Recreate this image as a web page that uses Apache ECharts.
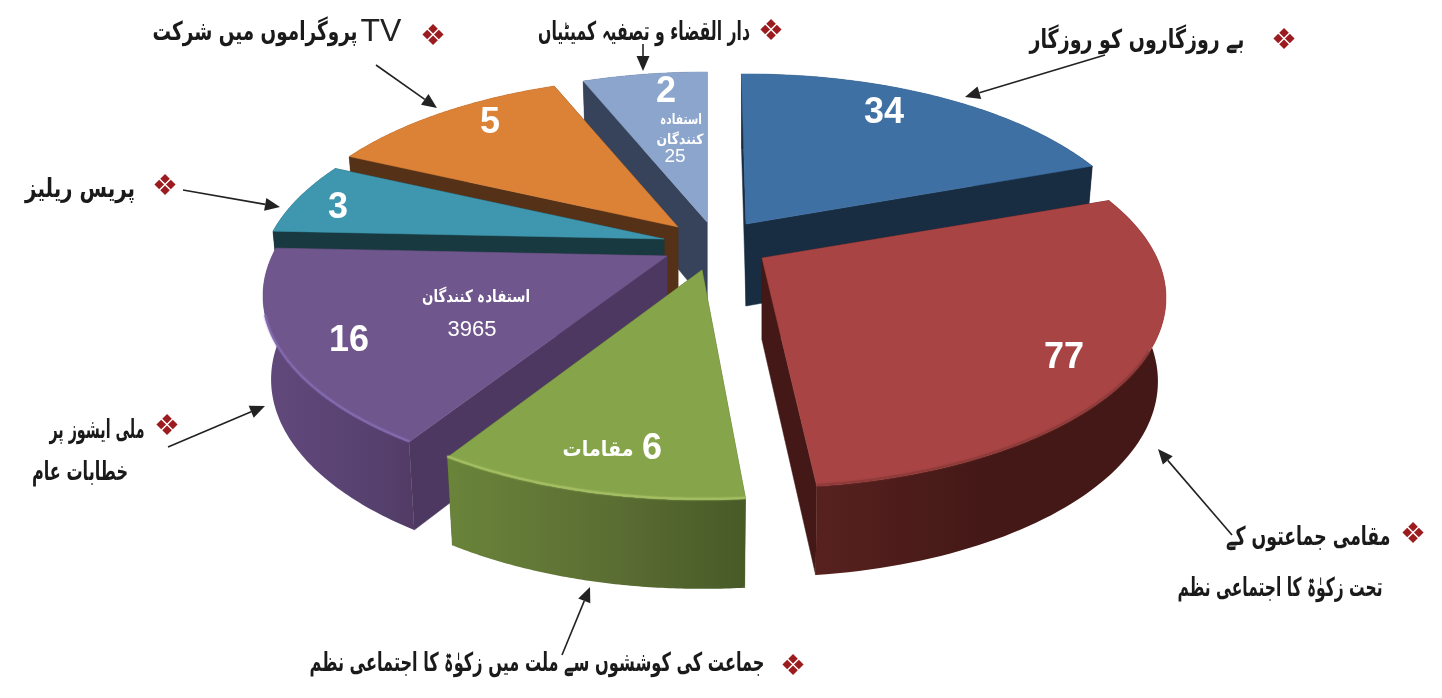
<!DOCTYPE html>
<html><head><meta charset="utf-8">
<style>html,body{margin:0;padding:0;background:#fff}#c{width:1442px;height:698px}</style>
<script src="https://cdn.jsdelivr.net/npm/echarts@6/dist/echarts.min.js"></script></head>
<body><div id="c"></div>
<script>
// ---- data (clockwise from 12 o'clock)
var sliceNames = ['بے روزگاروں کو روزگار','مقامی جماعتوں کے تحت زکوٰۃ کا اجتماعی نظم','جماعت کی کوششوں سے ملت میں زکوٰۃ کا اجتماعی نظم','ملی ایشوز پر خطابات عام','پریس ریلیز','TV پروگراموں میں شرکت','دار القضاء و تصفیہ کمیٹیاں'];
var sliceValues = [34,77,6,16,3,5,2];
// angular extent of each slice as drawn in the picture (degrees): not proportional to the values
var sliceFrom = [-0.8,70.2,175,212.5,272.5,295,338];
var sliceTo   = [70,173.7,212,272.5,295,338,360];

// ---- layout and style
var CENTER = [705,250];
var explode = [[41,-26],[57,8],[-3,20],[-38,6],[-41,-11],[-27,-23],[2,-28]];
var paintOrder = [0,6,5,4,3,2,1];
var topColor  = ['#3E70A4','#A84544','#86A44A','#6F568C','#3E97AF','#DC8237','#8CA5CC'];
var edgeColor = ['#182C42','#431816','#4A5C28','#4C3860','#17393F','#553117','#37435A'];
var wallStops = [
  ['#182C42','#182C42'],['#57211F','#431816','#431816'],['#6A843A','#5D7034','#485A27'],
  ['#62497C','#5A4474','#523C66'],['#17393F','#17393F'],['#553117','#553117'],['#37435A','#37435A']];
var rimColor = [null,'#8F3B3A','#A3BE62','#8169AD',null,null,null];
var rimRange = [null,[118,173.7],[175,212],[212.5,252],null,null,null];
var valueLabelAt = [[884,113],[1064,358],[652,449],[349,341],[338,208],[490,123],[666,92]];
var VALUE_FONT = 36, RX = 395, RY = 181.6, PERSP = 0.21, DEPTH0 = 82, DEPTH1 = 7, BOTTOM_X = 0.98;

function project(anchor, r, deg, bottom){
  var t = deg*Math.PI/180, X = r*Math.sin(t), Y = -r*Math.cos(t), s = 1/(1-PERSP*Y);
  var x = anchor[0] + X*RX*s*(bottom?BOTTOM_X:1);
  var y = anchor[1] + Y*RY*s + (bottom ? DEPTH0+DEPTH1*Y : 0);
  return [x,y];
}
function arc(anchor,a,b,bottom){
  var pts=[], n=80;
  for(var i=0;i<=n;i++) pts.push(project(anchor,1,a+(b-a)*i/n,bottom));
  return pts;
}
var sliceRows = paintOrder.map(function(i){return [i,sliceFrom[i],sliceTo[i],sliceValues[i]];});

function renderSlice(params, api){
  var i=api.value(0), a=api.value(1), b=api.value(2), val=api.value(3);
  var anchor=[CENTER[0]+explode[i][0],CENTER[1]+explode[i][1]];
  var apexB=project(anchor,0,0,true);
  var topArc=arc(anchor,a,b,false), botArc=arc(anchor,a,b,true);
  var stops=wallStops[i].map(function(c,k,l){return {offset:k/(l.length-1),color:c};});
  var kids=[];
  [[topArc[0],botArc[0]],[topArc[80],botArc[80]]].forEach(function(e){
    kids.push({type:'polygon',shape:{points:[anchor,e[0],e[1],apexB]},style:{fill:edgeColor[i],stroke:edgeColor[i],lineWidth:0.5}});
  });
  kids.push({type:'polygon',shape:{points:topArc.concat(botArc.slice().reverse())},
    style:{fill:{type:'linear',x:0,y:0,x2:1,y2:0,colorStops:stops},lineWidth:0}});
  kids.push({type:'polygon',shape:{points:[anchor].concat(topArc)},style:{fill:topColor[i],stroke:topColor[i],lineWidth:0.5}});
  if(rimColor[i]){
    kids.push({type:'polyline',shape:{points:arc(anchor,rimRange[i][0],rimRange[i][1],false).map(function(p){return [p[0],p[1]-1];})},
      style:{fill:null,stroke:rimColor[i],lineWidth:2,shadowBlur:2,shadowColor:rimColor[i]}});
  }
  kids.push({type:'text',x:valueLabelAt[i][0],y:valueLabelAt[i][1],
    style:{text:String(val),fill:'#fff',font:'bold '+VALUE_FONT+'px "Liberation Sans"',textAlign:'center',textVerticalAlign:'middle'}});
  return {type:'group',children:kids};
}

// ---- annotations: text, centre x, centre y, font size, target width
var URDU='"DejaVu Sans"';
var captionText = [
 ['بے روزگاروں کو روزگار',1137,41,26,215],
 ['دار القضاء و تصفیہ کمیٹیاں',644,33,26,212],
 ['پروگراموں میں شرکت',255,33,26,205],
 ['پریس ریلیز',80,190,26,110],
 ['ملی ایشوز پر',97,431,26,95],
 ['خطابات عام',80,473,26,96],
 ['مقامی جماعتوں کے',1308,538,26,165],
 ['تحت زکوٰۃ کا اجتماعی نظم',1280,589,26,205],
 ['جماعت کی کوششوں سے ملت میں زکوٰۃ کا اجتماعی نظم',537,664,26,455]
];
var innerText = [
 ['استفادہ کنندگان',476,298,17,108],
 ['استفادہ',681,120,14,42],
 ['کنندگان',680,140,14,47],
 ['مقامات',598,451,21,71]
];
var innerNumbers = [['3965',472,330,22],['25',675,157,19]];
var diamonds=[[1284,41],[771,32],[433,37],[165,187],[167,427],[1413,535],[793,667]];
var arrows=[[[1105,55],[965,97]],[[643,44],[643,71]],[[376,65],[437,108]],[[183,190],[280,207]],
            [[168,447],[265,406]],[[1232,535],[1158,449]],[[562,655],[590,587]]];

var meas=document.createElement('canvas').getContext('2d');
function fitText(c,fill){
  var font='bold '+c[3]+'px '+URDU; meas.font=font;
  var w=meas.measureText(c[0]).width;
  return {type:'text',x:c[1],y:c[2],z:10,scaleX:c[4]/w,style:{text:c[0],fill:fill,font:font,textAlign:'center',textVerticalAlign:'middle'}};
}
var graphics=[];
captionText.forEach(function(c){graphics.push(fitText(c,'#1a1a1a'));});
innerText.forEach(function(c){graphics.push(fitText(c,'#fff'));});
graphics.push({type:'text',x:381,y:32,z:10,style:{text:'TV',fill:'#222',font:'32px "Liberation Sans"',textAlign:'center',textVerticalAlign:'middle'}});
innerNumbers.forEach(function(c){graphics.push({type:'text',x:c[1],y:c[2],z:10,style:{text:c[0],fill:'#fff',font:c[3]+'px "Liberation Sans"',textAlign:'center',textVerticalAlign:'middle'}});});
diamonds.forEach(function(d){graphics.push({type:'text',x:d[0],y:d[1],z:10,style:{text:'\u2756',fill:'#9B1B1E',font:'29px "DejaVu Sans"',textAlign:'center',textVerticalAlign:'middle'}});});
arrows.forEach(function(ar){
  var p=ar[0],q=ar[1],ang=Math.atan2(q[1]-p[1],q[0]-p[0]),L=15,W=6.5;
  var bx=q[0]-L*Math.cos(ang),by=q[1]-L*Math.sin(ang),nx=-Math.sin(ang)*W,ny=Math.cos(ang)*W;
  graphics.push({type:'line',z:9,shape:{x1:p[0],y1:p[1],x2:bx,y2:by},style:{stroke:'#222',lineWidth:1.6}});
  graphics.push({type:'polygon',z:9,shape:{points:[q,[bx+nx,by+ny],[bx-nx,by-ny]]},style:{fill:'#222'}});
});

var chart=echarts.init(document.getElementById('c'),null,{renderer:'canvas'});
chart.setOption({animation:false,backgroundColor:'#fff',
  series:[{type:'custom',coordinateSystem:'none',renderItem:renderSlice,data:sliceRows,silent:true}],
  graphic:graphics});
</script></body></html>
